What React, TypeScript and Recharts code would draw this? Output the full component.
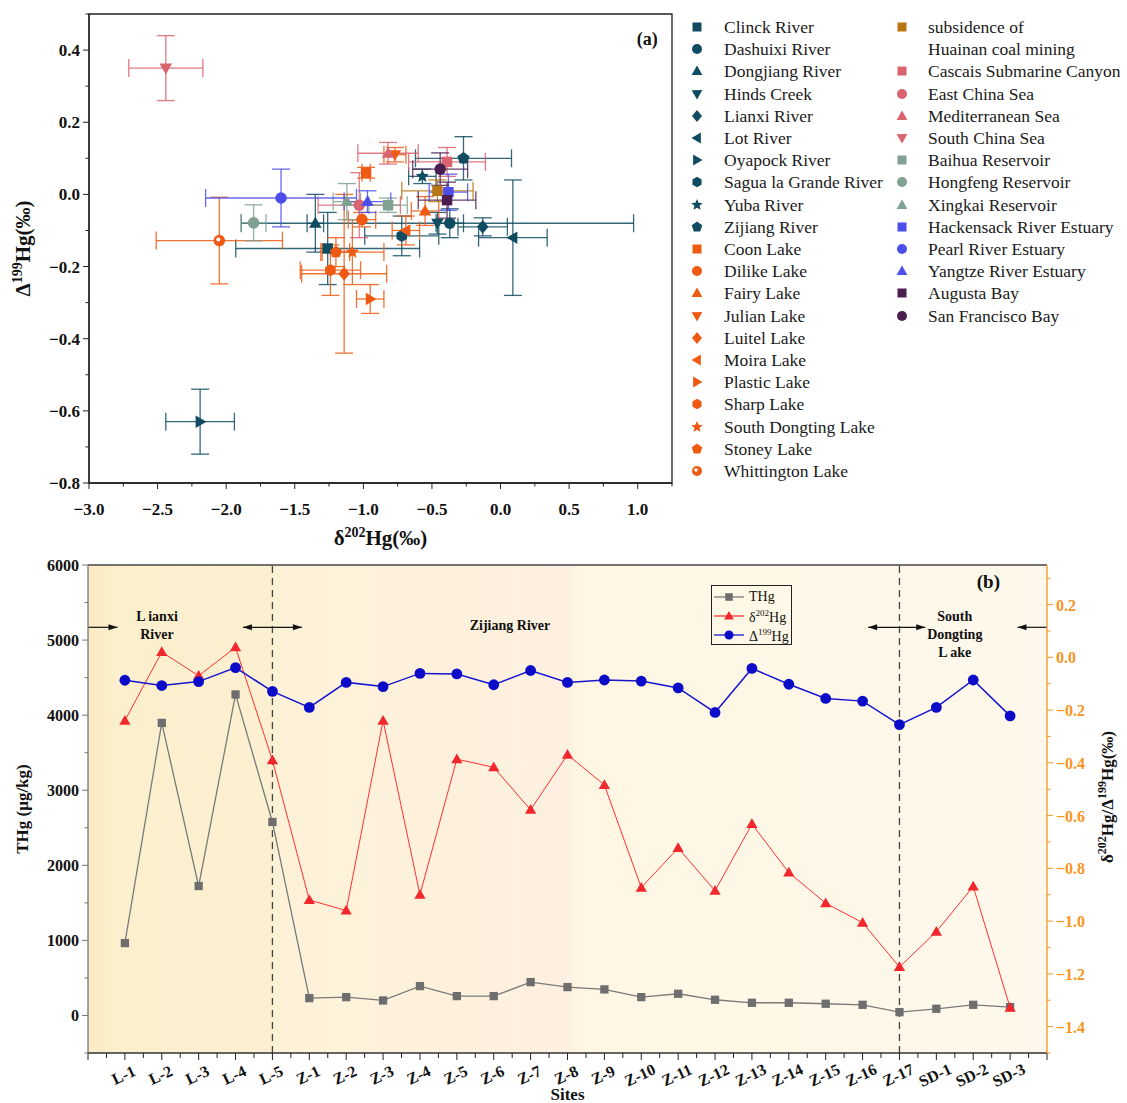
import React from 'react';
import {
  ScatterChart,
  Scatter,
  ComposedChart,
  Line,
  XAxis,
  YAxis,
  ErrorBar,
  ReferenceArea,
  ReferenceLine,
  ReferenceDot,
  Legend
} from 'recharts';

const SERIF = '"Liberation Serif", "Times New Roman", serif';

// ---------- panel (a) data ----------
const namesA = [
  'Clinck River', 'Dashuixi River', 'Dongjiang River', 'Hinds Creek', 'Lianxi River',
  'Lot River', 'Oyapock River', 'Sagua la Grande River', 'Yuba River', 'Zijiang River',
  'Coon Lake', 'Dilike Lake', 'Fairy Lake', 'Julian Lake', 'Luitel Lake', 'Moira Lake',
  'Plastic Lake', 'Sharp Lake', 'South Dongting Lake', 'Stoney Lake', 'Whittington Lake',
  'subsidence of\nHuainan coal mining', 'Cascais Submarine Canyon', 'East China Sea',
  'Mediterranean Sea', 'South China Sea', 'Baihua Reservoir', 'Hongfeng Reservoir',
  'Xingkai Reservoir', 'Hackensack River Estuary', 'Pearl River Estuary',
  'Yangtze River Estuary', 'Augusta Bay', 'San Francisco Bay'
];
const groupA = [
  'river', 'river', 'river', 'river', 'river', 'river', 'river', 'river', 'river', 'river',
  'lake', 'lake', 'lake', 'lake', 'lake', 'lake', 'lake', 'lake', 'lake', 'lake', 'lake',
  'coal', 'sea', 'sea', 'sea', 'sea', 'res', 'res', 'res', 'est', 'est', 'est', 'bay', 'bay'
];
const shapesA = [
  'square', 'circle', 'triUp', 'triDown', 'diamond', 'triLeft', 'triRight', 'hexagon', 'star', 'pentagon',
  'square', 'circle', 'triUp', 'triDown', 'diamond', 'triLeft', 'triRight', 'hexagon', 'star', 'pentagon', 'half',
  'square', 'square', 'circle', 'triUp', 'triDown', 'square', 'circle', 'triUp', 'square', 'circle', 'triUp',
  'square', 'circle'
];
const d202A = [
  -1.26, -0.37, -1.35, -0.46, -0.13, 0.09, -2.19, -0.72, -0.57, -0.27,
  -0.98, -1.01, -0.55, -0.77, -1.14, -0.69, -0.95, -1.24, -1.08, -1.2, -2.05,
  -0.46, -0.39, -1.03, -0.82, -2.44, -0.82, -1.8, -1.12, -0.38, -1.6, -0.97, -0.39, -0.44
];
const D199A = [
  -0.15, -0.08, -0.08, -0.08, -0.09, -0.12, -0.63, -0.115, 0.05, 0.1,
  0.06, -0.07, -0.046, 0.11, -0.22, -0.1, -0.29, -0.21, -0.16, -0.16, -0.128,
  0.01, 0.09, -0.03, 0.114, 0.35, -0.03, -0.079, -0.02, 0.006, -0.01, -0.02, -0.016, 0.07
];
const d202ErrA = [
  0.67, 0.1, 0.06, 1.43, 0.18, 0.25, 0.25, 0.27, 0.1, 0.35,
  0.03, 0.1, 0.1, 0.08, 0.31, 0.1, 0.1, 0.22, 0.23, 0.1, 0.46,
  0.26, 0.28, 0.3, 0.22, 0.27, 0.14, 0.09, 0.1, 0.14, 0.55, 0.17, 0.21, 0.2
];
const D199ErrA = [
  0.1, 0.04, 0.08, 0.03, 0.025, 0.16, 0.09, 0.055, 0.02, 0.06,
  0.015, 0.02, 0.04, 0.02, 0.22, 0.04, 0.04, 0.07, 0.09, 0.04, 0.12,
  0.03, 0.04, 0.09, 0.03, 0.09, 0.02, 0.05, 0.05, 0.05, 0.08, 0.03, 0.05, 0.045
];
const groupColors: Record<string, string> = {
  river: '#0f4c61',
  lake: '#ef5a12',
  coal: '#b97714',
  sea: '#d9636f',
  res: '#7fa192',
  est: '#4d4deb',
  bay: '#4a1f50'
};
const xTicksA = [-3, -2.75, -2.5, -2.25, -2, -1.75, -1.5, -1.25, -1, -0.75, -0.5, -0.25, 0, 0.25, 0.5, 0.75, 1, 1.25];
const yTicksA = [-0.8, -0.7, -0.6, -0.5, -0.4, -0.3, -0.2, -0.1, 0, 0.1, 0.2, 0.3, 0.4, 0.5];

// ---------- panel (b) data ----------
const sites = [
  'L-1', 'L-2', 'L-3', 'L-4', 'L-5',
  'Z-1', 'Z-2', 'Z-3', 'Z-4', 'Z-5', 'Z-6', 'Z-7', 'Z-8', 'Z-9', 'Z-10', 'Z-11', 'Z-12',
  'Z-13', 'Z-14', 'Z-15', 'Z-16', 'Z-17', 'SD-1', 'SD-2', 'SD-3'
];
const thg = [
  964, 3897, 1724, 4276, 2577,
  231, 244, 200, 391, 258, 258, 444, 378, 347, 244, 289, 209,
  169, 169, 156, 142, 44, 89, 142, 111
];
const d202 = [
  -0.24, 0.02, -0.07, 0.038, -0.39,
  -0.92, -0.96, -0.24, -0.9, -0.386, -0.417, -0.578, -0.369, -0.484, -0.873, -0.723, -0.885,
  -0.632, -0.816, -0.932, -1.006, -1.174, -1.04, -0.869, -1.328
];
const D199 = [
  -0.087, -0.107, -0.092, -0.039, -0.129,
  -0.19, -0.095, -0.111, -0.061, -0.063, -0.104, -0.05, -0.095, -0.086, -0.09, -0.116, -0.209,
  -0.042, -0.102, -0.156, -0.166, -0.255, -0.19, -0.086, -0.222
];
const xTicksB = [
  0, 0.5, 1, 1.5, 2, 2.5, 3, 3.5, 4, 4.5, 5, 5.5, 6, 6.5, 7, 7.5, 8, 8.5, 9, 9.5, 10, 10.5,
  11, 11.5, 12, 12.5, 13, 13.5, 14, 14.5, 15, 15.5, 16, 16.5, 17, 17.5, 18, 18.5, 19, 19.5,
  20, 20.5, 21, 21.5, 22, 22.5, 23, 23.5, 24, 24.5, 25, 25.5, 26
];
const yLeftTicksB = [-500, 0, 500, 1000, 1500, 2000, 2500, 3000, 3500, 4000, 4500, 5000, 5500, 6000];
const yRightTicksB = [-1.5, -1.4, -1.3, -1.2, -1.1, -1, -0.9, -0.8, -0.7, -0.6, -0.5, -0.4, -0.3, -0.2, -0.1, 0, 0.1, 0.2, 0.3];

const seriesA = namesA.map((name, i) => ({
  name,
  color: groupColors[groupA[i]],
  kind: shapesA[i],
  data: [{ x: d202A[i], y: D199A[i], ex: d202ErrA[i], ey: D199ErrA[i] }]
}));

const rowsB = sites.map((site, i) => ({ idx: i + 1, site, thg: thg[i], d202: d202[i], D199: D199[i] }));

// ---------- shapes ----------
function poly(cx: number, cy: number, r: number, n: number, rot: number) {
  const pts: string[] = [];
  for (let k = 0; k < n; k++) {
    const a = rot + (k * 2 * Math.PI) / n;
    pts.push(`${(cx + r * Math.cos(a)).toFixed(2)},${(cy + r * Math.sin(a)).toFixed(2)}`);
  }
  return pts.join(' ');
}

function starPts(cx: number, cy: number, r: number) {
  const pts: string[] = [];
  for (let k = 0; k < 10; k++) {
    const a = -Math.PI / 2 + (k * Math.PI) / 5;
    const rr = k % 2 === 0 ? r : r * 0.45;
    pts.push(`${(cx + rr * Math.cos(a)).toFixed(2)},${(cy + rr * Math.sin(a)).toFixed(2)}`);
  }
  return pts.join(' ');
}

function Marker({ kind, cx, cy, r = 5.5, fill }: any) {
  if (cx == null || cy == null) return null;
  switch (kind) {
    case 'square':
      return <rect x={cx - r * 0.9} y={cy - r * 0.9} width={r * 1.8} height={r * 1.8} fill={fill} />;
    case 'circle':
      return <circle cx={cx} cy={cy} r={r} fill={fill} />;
    case 'triUp':
      return <polygon points={poly(cx, cy + r * 0.15, r * 1.25, 3, -Math.PI / 2)} fill={fill} />;
    case 'triDown':
      return <polygon points={poly(cx, cy - r * 0.15, r * 1.25, 3, Math.PI / 2)} fill={fill} />;
    case 'triLeft':
      return <polygon points={poly(cx + r * 0.15, cy, r * 1.25, 3, Math.PI)} fill={fill} />;
    case 'triRight':
      return <polygon points={poly(cx - r * 0.15, cy, r * 1.25, 3, 0)} fill={fill} />;
    case 'diamond':
      return <polygon points={`${cx},${cy - r * 1.2} ${cx + r},${cy} ${cx},${cy + r * 1.2} ${cx - r},${cy}`} fill={fill} />;
    case 'hexagon':
      return <polygon points={poly(cx, cy, r * 1.05, 6, -Math.PI / 2)} fill={fill} />;
    case 'pentagon':
      return <polygon points={poly(cx, cy, r * 1.1, 5, -Math.PI / 2)} fill={fill} />;
    case 'star':
      return <polygon points={starPts(cx, cy, r * 1.2)} fill={fill} />;
    case 'half':
      return (
        <g>
          <circle cx={cx} cy={cy} r={r} fill={fill} />
          <circle cx={cx - 1} cy={cy - 1} r={r * 0.35} fill="#ffffff" />
        </g>
      );
    default:
      return <circle cx={cx} cy={cy} r={r} fill={fill} />;
  }
}

const fmt1 = (v: number) => (v < -1e-9 ? '\u2212' : '') + Math.abs(v).toFixed(1);
const isStep = (v: number, step: number) => Math.abs(v / step - Math.round(v / step)) < 1e-6;

// ---------- ticks ----------
function XTickA(props: any) {
  const { x, y, payload } = props;
  const v = payload.value;
  const major = isStep(v, 0.5);
  return (
    <g>
      <line x1={x} x2={x} y1={y} y2={y + (major ? 6 : 3.5)} stroke="#222" strokeWidth={1} />
      {major && (
        <text x={x} y={y + 32} textAnchor="middle" fontFamily={SERIF} fontWeight="bold" fontSize={17} fill="#111">
          {fmt1(v)}
        </text>
      )}
    </g>
  );
}

function YTickA(props: any) {
  const { x, y, payload } = props;
  const v = payload.value;
  const major = isStep(v, 0.2) && v < 0.45;
  return (
    <g>
      <line x1={x} x2={x - (major ? 6 : 3.5)} y1={y} y2={y} stroke="#222" strokeWidth={1} />
      {major && (
        <text x={x - 9} y={y + 6} textAnchor="end" fontFamily={SERIF} fontWeight="bold" fontSize={17} fill="#111">
          {fmt1(v)}
        </text>
      )}
    </g>
  );
}

function XTickB(props: any) {
  const { x, y, payload } = props;
  const v = payload.value;
  const label = Number.isInteger(v) && v >= 1 && v <= sites.length ? sites[v - 1] : null;
  return (
    <g>
      <line x1={x} x2={x} y1={y} y2={y + (Number.isInteger(v) ? 7 : 5)} stroke="#222" strokeWidth={1} />
      {label && (
        <text
          transform={`translate(${x + 1},${y + 27}) rotate(-25)`}
          textAnchor="middle"
          fontFamily={SERIF}
          fontWeight="bold"
          fontSize={16}
          fill="#111"
        >
          {label}
        </text>
      )}
    </g>
  );
}

function YLeftTickB(props: any) {
  const { x, y, payload } = props;
  const v = payload.value;
  const major = isStep(v, 1000);
  return (
    <g>
      <line x1={x} x2={x - (major ? 6 : 3.5)} y1={y} y2={y} stroke="#777" strokeWidth={1} />
      {major && (
        <text x={x - 9} y={y + 6} textAnchor="end" fontFamily={SERIF} fontWeight="bold" fontSize={16} fill="#111">
          {v}
        </text>
      )}
    </g>
  );
}

function YRightTickB(props: any) {
  const { x, y, payload } = props;
  const v = payload.value;
  const major = isStep(v, 0.2) && v > -1.45 && v < 0.25;
  return (
    <g>
      <line x1={x} x2={x + (major ? 6 : 3.5)} y1={y} y2={y} stroke="#f7941d" strokeWidth={1} />
      {major && (
        <text x={x + 9} y={y + 6} textAnchor="start" fontFamily={SERIF} fontWeight="bold" fontSize={16} fill="#f7941d">
          {fmt1(v)}
        </text>
      )}
    </g>
  );
}

// ---------- axis titles ----------
const yTitleA = (p: any) => {
  const vb = p.viewBox;
  const cy = vb.y + vb.height / 2;
  return (
    <text transform={`translate(30,${cy}) rotate(-90)`} textAnchor="middle" fontFamily={SERIF} fontWeight="bold" fontSize={21} fill="#111">
      <tspan>Δ</tspan>
      <tspan fontSize={14} dy={-8}>199</tspan>
      <tspan dy={8}>Hg(‰)</tspan>
    </text>
  );
};

const xTitleA = (p: any) => {
  const vb = p.viewBox;
  return (
    <text x={vb.x + vb.width / 2} y={vb.y + 62} textAnchor="middle" fontFamily={SERIF} fontWeight="bold" fontSize={21} fill="#111">
      <tspan>δ</tspan>
      <tspan fontSize={14} dy={-8}>202</tspan>
      <tspan dy={8}>Hg(‰)</tspan>
    </text>
  );
};

const yLeftTitleB = (p: any) => {
  const vb = p.viewBox;
  const cy = vb.y + vb.height / 2;
  return (
    <text transform={`translate(28,${cy}) rotate(-90)`} textAnchor="middle" fontFamily={SERIF} fontWeight="bold" fontSize={17} fill="#111">
      THg (μg/kg)
    </text>
  );
};

const yRightTitleB = (p: any) => {
  const vb = p.viewBox;
  const cy = vb.y + vb.height / 2 - 12;
  return (
    <text transform={`translate(${vb.x + vb.width - 14},${cy}) rotate(-90)`} textAnchor="middle" fontFamily={SERIF} fontWeight="bold" fontSize={17} fill="#111">
      <tspan>δ</tspan>
      <tspan fontSize={12} dy={-7}>202</tspan>
      <tspan dy={7}>Hg/Δ</tspan>
      <tspan fontSize={12} dy={-7}>199</tspan>
      <tspan dy={7}>Hg(‰)</tspan>
    </text>
  );
};

const xTitleB = (p: any) => {
  const vb = p.viewBox;
  return (
    <text x={vb.x + vb.width / 2} y={vb.y + 47} textAnchor="middle" fontFamily={SERIF} fontWeight="bold" fontSize={17} fill="#111">
      Sites
    </text>
  );
};

// ---------- legends ----------
function LegendA() {
  const rowH = 22.2;
  return (
    <div style={{ position: 'relative', width: 447, height: 470, fontFamily: SERIF, fontSize: 17.5, color: '#1a1a1a' }}>
      {seriesA.map((s, i) => {
        const col = i < 21 ? 0 : 1;
        const row = col === 0 ? i : i === 21 ? 0 : i - 20;
        const left = col === 0 ? 8 : 213;
        const lines = s.name.split('\n');
        return (
          <div key={s.name} style={{ position: 'absolute', left, top: 15 + row * rowH - 11, display: 'flex', alignItems: 'flex-start' }}>
            <svg width={18} height={22} style={{ flex: 'none' }}>
              <Marker kind={s.kind} cx={9} cy={11} r={5} fill={s.color} />
            </svg>
            <div style={{ marginLeft: col === 0 ? 18 : 17, lineHeight: `${rowH}px`, whiteSpace: 'nowrap' }}>
              {lines.map((l) => (
                <div key={l}>{l}</div>
              ))}
            </div>
          </div>
        );
      })}
    </div>
  );
}

function LegendB() {
  const items = [
    { kind: 'square', color: '#7a7a7a', fill: '#6e6e6e', label: <span>THg</span> },
    { kind: 'triUp', color: '#ff3030', fill: '#f0282d', label: <span>δ<sup style={{ fontSize: 9 }}>202</sup>Hg</span> },
    { kind: 'circle', color: '#1515d0', fill: '#0c0cc8', label: <span>Δ<sup style={{ fontSize: 9 }}>199</sup>Hg</span> }
  ];
  return (
    <div style={{ width: 81, height: 60, border: '1.5px solid #222', boxSizing: 'border-box', fontFamily: SERIF, fontSize: 14, color: '#111', padding: '1px 0 0 1px' }}>
      {items.map((it, i) => (
        <div key={i} style={{ display: 'flex', alignItems: 'center', height: 19 }}>
          <svg width={32} height={16} style={{ flex: 'none' }}>
            <line x1={1} x2={31} y1={8} y2={8} stroke={it.color} strokeWidth={1.3} />
            <Marker kind={it.kind} cx={16} cy={8} r={it.kind === 'square' ? 4.2 : 4.5} fill={it.fill} />
          </svg>
          <div style={{ marginLeft: 4, lineHeight: '15px' }}>{it.label}</div>
        </div>
      ))}
    </div>
  );
}

// ---------- annotation helpers ----------
const arrowHead = (dir: 'left' | 'right') => (p: any) => {
  const { cx, cy } = p;
  if (cx == null) return null;
  const s = dir === 'right' ? -1 : 1;
  return <polygon points={`${cx},${cy} ${cx + s * 9},${cy - 3} ${cx + s * 9},${cy + 3}`} fill="#111" />;
};

const textBlock = (lines: string[], size: number, firstDy: number, lineH: number) => (p: any) => {
  const { cx, cy } = p;
  if (cx == null) return null;
  return (
    <text x={cx} y={cy + firstDy} textAnchor="middle" fontFamily={SERIF} fontWeight="bold" fontSize={size} fill="#111">
      {lines.map((l, i) => (
        <tspan key={i} x={cx} dy={i === 0 ? 0 : lineH}>
          {l}
        </tspan>
      ))}
    </text>
  );
};

export default function App() {
  return (
    <div style={{ position: 'absolute', left: 0, top: 0, width: 1127, height: 1103, background: '#fff', overflow: 'hidden' }}>
      {/* panel (a) */}
      <div style={{ position: 'absolute', left: 0, top: 0 }}>
        <ScatterChart width={1127} height={555} margin={{ top: 14, right: 455, bottom: 0, left: 0 }}>
          <XAxis
            type="number"
            dataKey="x"
            domain={[-3, 1.25]}
            allowDataOverflow
            ticks={xTicksA}
            interval={0}
            tick={<XTickA />}
            tickLine={false}
            tickSize={0}
            tickMargin={0}
            axisLine={{ stroke: '#222', strokeWidth: 1.3 }}
            height={72}
            label={xTitleA}
          />
          <YAxis
            type="number"
            dataKey="y"
            domain={[-0.8, 0.5]}
            allowDataOverflow
            ticks={yTicksA}
            interval={0}
            tick={<YTickA />}
            tickLine={false}
            tickSize={0}
            tickMargin={0}
            axisLine={{ stroke: '#222', strokeWidth: 1.3 }}
            width={89}
            label={yTitleA}
          />
          <ReferenceArea x1={-3} x2={1.25} y1={-0.8} y2={0.5} fill="none" stroke="#222" strokeWidth={1.3} />
          {seriesA.map((s) => (
            <Scatter
              key={s.name}
              name={s.name}
              data={s.data}
              fill={s.color}
              isAnimationActive={false}
              shape={(p: any) => <Marker kind={s.kind} cx={p.cx} cy={p.cy} r={5.8} fill={s.color} />}
            >
              <ErrorBar dataKey="ex" direction="x" width={9} stroke={s.color} strokeOpacity={0.85} strokeWidth={1.3} isAnimationActive={false} />
              <ErrorBar dataKey="ey" direction="y" width={9} stroke={s.color} strokeOpacity={0.85} strokeWidth={1.3} isAnimationActive={false} />
            </Scatter>
          ))}
          <ReferenceDot x={1.07} y={0.43} r={0} shape={textBlock(['(a)'], 18, 6, 0)} />
          <Legend
            layout="horizontal"
            verticalAlign="middle"
            align="center"
            wrapperStyle={{ left: 680, top: 12, width: 447, height: 470 }}
            content={() => <LegendA />}
          />
        </ScatterChart>
      </div>

      {/* panel (b) */}
      <div style={{ position: 'absolute', left: 0, top: 555 }}>
        <ComposedChart width={1127} height={548} data={rowsB} margin={{ top: 10, right: 0, bottom: 0, left: 0 }}>
          <defs>
            <linearGradient id="bgB" x1="0" y1="0" x2="1" y2="0">
              <stop offset="0" stopColor="#fbebc3" />
              <stop offset="0.03" stopColor="#fcefcd" />
              <stop offset="0.19" stopColor="#fcf0d2" />
              <stop offset="0.2" stopColor="#fdf2d8" />
              <stop offset="0.5" stopColor="#fdf0e0" />
              <stop offset="0.51" stopColor="#fef5e2" />
              <stop offset="0.56" stopColor="#fff7e4" />
              <stop offset="1" stopColor="#fef8ec" />
            </linearGradient>
          </defs>
          <XAxis
            type="number"
            dataKey="idx"
            domain={[0, 26]}
            allowDataOverflow
            ticks={xTicksB}
            interval={0}
            tick={<XTickB />}
            tickLine={false}
            tickSize={0}
            tickMargin={0}
            axisLine={{ stroke: '#333', strokeWidth: 1.3 }}
            height={50}
            label={xTitleB}
          />
          <YAxis
            yAxisId="left"
            type="number"
            domain={[-500, 6000]}
            allowDataOverflow
            ticks={yLeftTicksB}
            interval={0}
            tick={<YLeftTickB />}
            tickLine={false}
            tickSize={0}
            tickMargin={0}
            axisLine={{ stroke: '#777', strokeWidth: 1.3 }}
            width={88}
            label={yLeftTitleB}
          />
          <YAxis
            yAxisId="right"
            orientation="right"
            type="number"
            domain={[-1.5, 0.35]}
            allowDataOverflow
            ticks={yRightTicksB}
            interval={0}
            tick={<YRightTickB />}
            tickLine={false}
            tickSize={0}
            tickMargin={0}
            axisLine={{ stroke: '#f7941d', strokeWidth: 1.3 }}
            width={80}
            label={yRightTitleB}
          />
          <ReferenceArea yAxisId="left" x1={0} x2={26} y1={-500} y2={6000} fill="url(#bgB)" fillOpacity={1} stroke="none" />
          <ReferenceLine yAxisId="left" y={6000} stroke="#444" strokeWidth={1.3} />
          <ReferenceLine yAxisId="left" x={5} stroke="#444" strokeWidth={1.3} strokeDasharray="7 5" />
          <ReferenceLine yAxisId="left" x={22} stroke="#444" strokeWidth={1.3} strokeDasharray="7 5" />

          {/* region arrows */}
          <ReferenceLine yAxisId="left" segment={[{ x: 0, y: 5170 }, { x: 0.8, y: 5170 }]} stroke="#111" strokeWidth={1.2} />
          <ReferenceDot yAxisId="left" x={0.8} y={5170} r={0} shape={arrowHead('right')} />
          <ReferenceLine yAxisId="left" segment={[{ x: 4.2, y: 5170 }, { x: 5.8, y: 5170 }]} stroke="#111" strokeWidth={1.2} />
          <ReferenceDot yAxisId="left" x={4.2} y={5170} r={0} shape={arrowHead('left')} />
          <ReferenceDot yAxisId="left" x={5.8} y={5170} r={0} shape={arrowHead('right')} />
          <ReferenceLine yAxisId="left" segment={[{ x: 21.15, y: 5170 }, { x: 22.7, y: 5170 }]} stroke="#111" strokeWidth={1.2} />
          <ReferenceDot yAxisId="left" x={21.15} y={5170} r={0} shape={arrowHead('left')} />
          <ReferenceDot yAxisId="left" x={22.7} y={5170} r={0} shape={arrowHead('right')} />
          <ReferenceLine yAxisId="left" segment={[{ x: 25.2, y: 5170 }, { x: 26, y: 5170 }]} stroke="#111" strokeWidth={1.2} />
          <ReferenceDot yAxisId="left" x={25.2} y={5170} r={0} shape={arrowHead('left')} />

          {/* region names */}
          <ReferenceDot yAxisId="left" x={1.87} y={5200} r={0} shape={textBlock(['L ianxi', 'River'], 14, -4, 18)} />
          <ReferenceDot yAxisId="left" x={11.44} y={5200} r={0} shape={textBlock(['Zijiang River'], 14, 5, 0)} />
          <ReferenceDot yAxisId="left" x={23.5} y={5200} r={0} shape={textBlock(['South', 'Dongting', 'L ake'], 14, -4, 18)} />
          <ReferenceDot yAxisId="left" x={24.41} y={5773} r={0} shape={textBlock(['(b)'], 19, 6, 0)} />

          <Line
            yAxisId="left"
            dataKey="thg"
            name="THg"
            stroke="#7a7a7a"
            strokeWidth={1.3}
            isAnimationActive={false}
            activeDot={false}
            dot={(p: any) => <Marker key={`t${p.index}`} kind="square" cx={p.cx} cy={p.cy} r={4.6} fill="#6e6e6e" />}
          />
          <Line
            yAxisId="right"
            dataKey="d202"
            name="d202"
            stroke="#ff3030"
            strokeWidth={1}
            isAnimationActive={false}
            activeDot={false}
            dot={(p: any) => <Marker key={`d${p.index}`} kind="triUp" cx={p.cx} cy={p.cy} r={5.2} fill="#f0282d" />}
          />
          <Line
            yAxisId="right"
            dataKey="D199"
            name="D199"
            stroke="#1515d0"
            strokeWidth={1.5}
            isAnimationActive={false}
            activeDot={false}
            dot={(p: any) => <Marker key={`c${p.index}`} kind="circle" cx={p.cx} cy={p.cy} r={5.4} fill="#0c0cc8" />}
          />
          <Legend
            layout="horizontal"
            verticalAlign="middle"
            align="center"
            wrapperStyle={{ left: 711, top: 30, width: 81, height: 60 }}
            content={() => <LegendB />}
          />
        </ComposedChart>
      </div>
    </div>
  );
}
